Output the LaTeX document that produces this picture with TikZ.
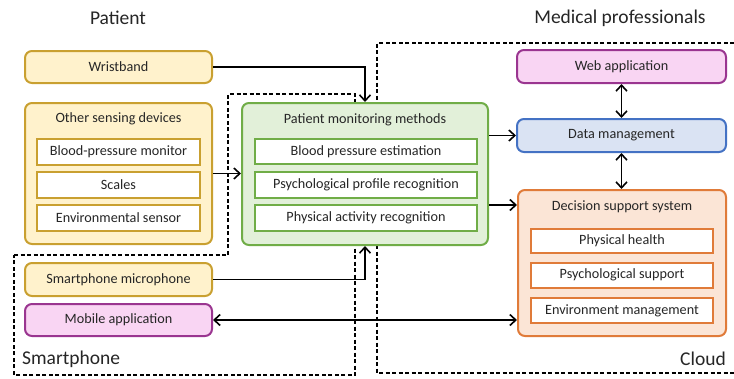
\documentclass[tikz,border=0pt]{standalone}
\usepackage{fontspec}
\setmainfont{Carlito}
\usetikzlibrary{arrows.meta,calc}
\definecolor{yfill}{HTML}{FFF2CC}
\definecolor{ydraw}{HTML}{C9A030}
\definecolor{pfill}{HTML}{F9D5F3}
\definecolor{pdraw}{HTML}{9A3590}
\definecolor{gfill}{HTML}{E2F0D9}
\definecolor{gdraw}{HTML}{70AD47}
\definecolor{bfill}{HTML}{DAE3F3}
\definecolor{bdraw}{HTML}{4472C4}
\definecolor{ofill}{HTML}{FBE5D6}
\definecolor{odraw}{HTML}{E07B39}
\definecolor{txt}{HTML}{262626}
\tikzset{
  box/.style={rounded corners=7pt, line width=2pt, inner sep=0pt, font=\fontsize{14.2}{17}\selectfont, text=txt},
  ybox/.style={box, draw=ydraw, fill=yfill},
  pbox/.style={box, draw=pdraw, fill=pfill},
  gbox/.style={box, draw=gdraw, fill=gfill},
  bbox/.style={box, draw=bdraw, fill=bfill},
  obox/.style={box, draw=odraw, fill=ofill},
  inbox/.style={draw, fill=white, line width=2pt, inner sep=0pt, font=\fontsize{14.2}{17}\selectfont, text=txt},
  ttl/.style={font=\fontsize{14.2}{17}\selectfont, text=txt, inner sep=0pt},
  head/.style={font=\fontsize{19.5}{23}\selectfont, text=txt, inner sep=0pt},
  arr/.style={line width=1.6pt, -{Straight Barb[length=6pt,width=11pt,line width=1.6pt]}},
  darr/.style={line width=1.6pt, {Straight Barb[length=6pt,width=11pt,line width=1.6pt]}-{Straight Barb[length=6pt,width=11pt,line width=1.6pt]}},
  region/.style={line width=1.4pt, dash pattern=on 4pt off 2.5pt},
}
\begin{document}
\begin{tikzpicture}[x=1pt,y=-1pt]
\useasboundingbox (0,0) rectangle (734,378);
\clip (0,0) rectangle (734,378);
\fill[white] (0,0) rectangle (734,378);
% regions
\draw[region] (14,255) -- (228,255) -- (228,94) -- (355,94) -- (355,375) -- (14,375) -- cycle;
\draw[region] (760,43) -- (377,43) -- (377,373) -- (760,373);
% headings
\node[head] (hpat) at (118,18) {Patient};
\node[head] (hmed) at (620,18) {Medical professionals};
\node[head, anchor=west] (hsp) at (22,359) {Smartphone};
\node[head, anchor=east] (hcl) at (726,359) {Cloud};
% patient side
\node[ybox, minimum width=187pt, minimum height=32pt] (wrist) at (118.5,67) {Wristband};
\node[ybox, minimum width=187pt, minimum height=141pt] (sens) at (118.5,173.5) {};
\node[ttl] (senst) at (118.5,119) {Other sensing devices};
\node[inbox, draw=ydraw, minimum width=163pt, minimum height=26pt] (bpm) at (118.5,152) {Blood-pressure monitor};
\node[inbox, draw=ydraw, minimum width=163pt, minimum height=26pt] (scal) at (118.5,185) {Scales};
\node[inbox, draw=ydraw, minimum width=163pt, minimum height=26pt] (envs) at (118.5,217.5) {Environmental sensor};
\node[ybox, minimum width=187pt, minimum height=33pt] (mic) at (118.5,279.5) {Smartphone microphone};
\node[pbox, minimum width=187pt, minimum height=32pt] (mob) at (118.5,320) {Mobile application};
% monitoring
\node[gbox, minimum width=246pt, minimum height=142pt] (green) at (365,174) {};
\node[ttl] (greent) at (365,120) {Patient monitoring methods};
\node[inbox, draw=gdraw, minimum width=222pt, minimum height=25pt] (bpe) at (366,151.5) {Blood pressure estimation};
\node[inbox, draw=gdraw, minimum width=222pt, minimum height=26pt] (ppr) at (366,185) {Psychological profile recognition};
\node[inbox, draw=gdraw, minimum width=222pt, minimum height=26pt] (par) at (366,218) {Physical activity recognition};
% cloud
\node[pbox, minimum width=209pt, minimum height=33pt] (web) at (621.5,66.5) {Web application};
\node[bbox, minimum width=209pt, minimum height=33pt] (data) at (621.5,135.5) {Data management};
\node[obox, minimum width=208pt, minimum height=146pt] (dss) at (622,263) {};
\node[ttl] (dsst) at (622,207) {Decision support system};
\node[inbox, draw=odraw, minimum width=182pt, minimum height=24pt] (phh) at (622,240.5) {Physical health};
\node[inbox, draw=odraw, minimum width=182pt, minimum height=25pt] (psy) at (622,275) {Psychological support};
\node[inbox, draw=odraw, minimum width=182pt, minimum height=25pt] (envm) at (622,310.5) {Environment management};
% connectors
\coordinate (dssin) at (0,205);
\draw[arr] (wrist.east) -| (green.north);
\draw[arr] (sens.east) -- (green.west |- sens.east);
\draw[arr] (mic.east) -| (green.south);
\draw[darr] (mob.east) -- (dss.west |- mob.east);
\draw[arr] (green.east |- data.west) -- (data.west);
\draw[arr] (green.east |- dssin) -- (dss.west |- dssin);
\draw[darr] (web.south) -- (data.north);
\draw[darr] (data.south) -- (data.south |- dss.north);
\end{tikzpicture}
\end{document}
